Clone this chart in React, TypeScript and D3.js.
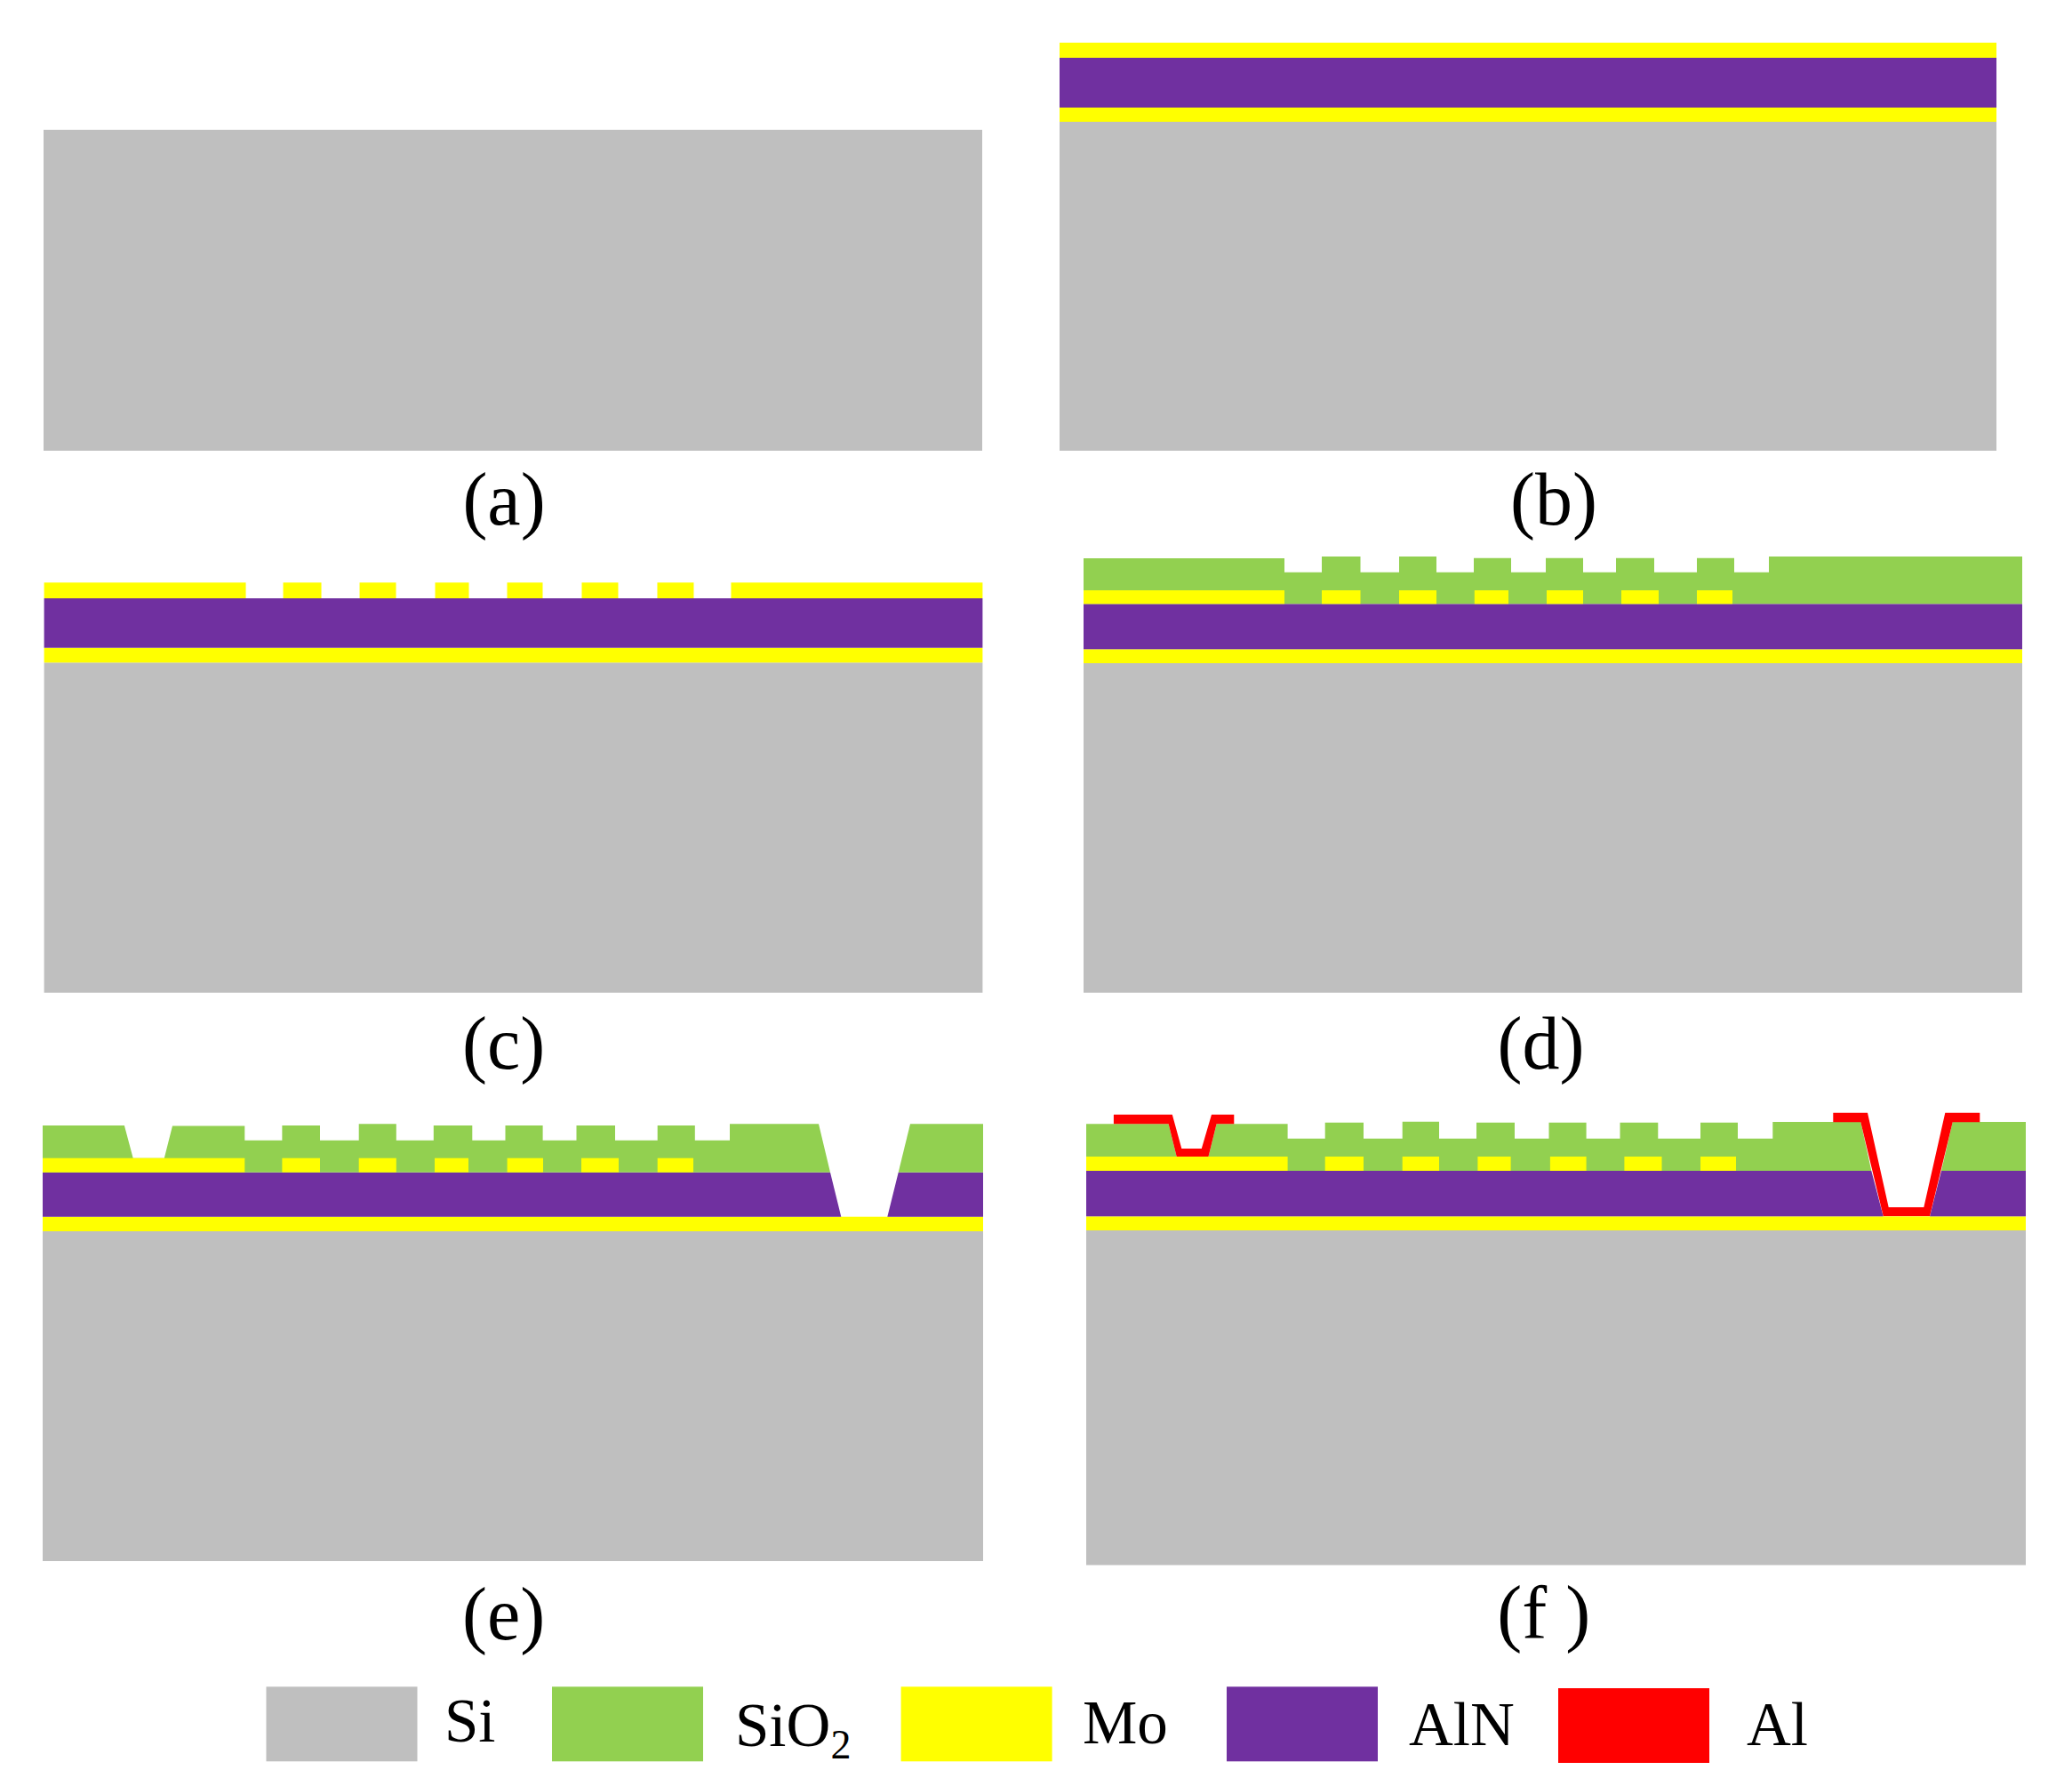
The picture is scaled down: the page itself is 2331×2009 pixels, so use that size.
import * as d3 from 'd3';

type Pt = [number, number];
type Span = [number, number];

// material colours
const colorSi = '#bfbfbf';
const colorSiO2 = '#92d050';
const colorMo = '#ffff00';
const colorAlN = '#7030a0';
const colorAl = '#ff0000';

// x runs along the wafer, z is height above the bottom of the substrate
// layer tops per panel: [Si, lower Mo, AlN, upper Mo]
const stackA = [361];
const stackB = [370, 386, 442, 459];
const stackC = [370.7, 387.3, 443, 460.7];
const stackD = [370, 385.7, 436.7, 452];
const stackE = [371, 387.3, 437.3, 453.3];
const stackF = [376, 391.7, 443, 459];

// upper Mo pieces
const moC: Span[] = [[0, 227], [269, 312], [355, 396], [440, 478], [521, 561], [605, 646], [690, 731], [773, 1056]];
const moD: Span[] = [[0, 226], [268, 311.5], [355, 397], [439.8, 478], [521, 562], [605, 647], [690, 730]];
const moE: Span[] = [[0, 227.3], [269.4, 312], [355.7, 397.8], [441, 479], [522.6, 563], [606, 648], [691.7, 732]];
const moF: Span[] = [[0, 226.6], [268.7, 312], [355.7, 397], [440.4, 477.6], [521.9, 562.6], [605.4, 647.5], [691, 731]];

// SiO2 teeth: [from, to, top]
const teethD = [[268, 311.5, 490], [355, 397, 490], [439, 481, 488.3], [520, 562, 488.3], [599, 642, 488.3], [690, 732, 488.3]];
const teethE = [[269.4, 312, 490], [355.7, 397.8, 491.7], [439.8, 483.3, 490], [520.5, 562.6, 490], [600.5, 644, 490], [691.7, 733.8, 490]];
const teethF = [[268.7, 312, 497.3], [355.7, 397, 498.3], [439, 482, 497.3], [520.5, 562.6, 497.3], [600.5, 643.3, 497.3], [691, 733, 497.3]];

// SiO2 gutter level between the teeth
const notchD = 472.3;
const notchE = 473.3;
const notchF = 479.3;

// SiO2 outline pieces either side of the comb
const oxideLeftD: Pt[] = [[0, 436.7], [0, 488], [226, 488], [226, 472.3]];
const oxideRightD: Pt[] = [[771, 472.3], [771, 490], [1056, 490], [1056, 436.7]];
const oxideLeftE: Pt[] = [[0, 437.3], [0, 490], [91.9, 490], [101.7, 453.3], [136.8, 453.3], [146, 489.5], [227.3, 489.5], [227.3, 473.3]];
const oxideRightE: Pt[] = [[773, 473.3], [773, 491.7], [873, 491.7], [886, 437.3]];
const oxideFarE: Pt[] = [[962.7, 437.3], [976, 491.7], [1058, 491.7], [1058, 437.3]];
const oxideLeftF: Pt[] = [[0, 443], [0, 495.7], [92.6, 495.7], [101.7, 459], [137.5, 459], [146.6, 495.7], [226.6, 495.7], [226.6, 479.3]];
const oxideRightF: Pt[] = [[772.3, 479.3], [772.3, 498], [871.3, 498], [883.3, 443]];
const oxideFarF: Pt[] = [[962, 443], [974.7, 498], [1057, 498], [1057, 443]];

// AlN with the via etched through
const alnE: Pt[] = [[0, 387.3], [0, 437.3], [886, 437.3], [898.3, 387.3], [950.3, 387.3], [962.7, 437.3], [1058, 437.3], [1058, 387.3]];
const alnF: Pt[] = [[0, 391.7], [0, 443], [883.3, 443], [896.7, 391.7], [949, 391.7], [962, 443], [1057, 443], [1057, 391.7]];

// Al contacts
const alSmall: Pt[] = [[30.9, 506.3], [96.8, 506.3], [107.3, 468], [129.8, 468], [141, 506.3], [166.3, 506.3], [166.3, 495.7], [146.6, 495.7], [137.5, 459], [101.7, 459], [92.6, 495.7], [30.9, 495.7]];
const alBig: Pt[] = [[840.3, 508.3], [879, 508.3], [902.7, 402], [942.3, 402], [966.3, 508.3], [1005.3, 508.3], [1005.3, 497.7], [974.7, 497.7], [949, 392], [896.7, 392], [871.3, 497.7], [840.3, 497.7]];

// legend
const legendNames = ['Si', 'SiO', 'Mo', 'AlN', 'Al'];
const legendColors = [colorSi, colorSiO2, colorMo, colorAlN, colorAl];

const combOutline = (teeth: number[][], notch: number): Pt[] =>
  teeth.flatMap(([a, b, top]) => [[a, notch], [a, top], [b, top], [b, notch]] as Pt[]);

const line = d3.line();

function Panel({left, right, bottom, width, stack, base = 0, label, labelX, labelY, children}: any) {
  const x = d3.scaleLinear().domain([0, width]).range([left, right]);
  const y = d3.scaleLinear().domain([0, 600]).range([bottom, bottom - 600]);
  const path = (pts: Pt[]) => line(pts.map(([a, b]) => [x(a), y(b)] as Pt)) + 'Z';
  const band = (z0: number, z1: number, color: string) =>
    <rect x={left} width={right - left} y={y(z1)} height={y(z0) - y(z1)} fill={color}/>;
  return <g>
    {band(base, stack[0], colorSi)}
    {stack.length > 1 && band(stack[0], stack[1], colorMo)}
    {stack.length > 2 && band(stack[1], stack[2], colorAlN)}
    {children && children(x, y, path)}
    <text x={labelX} y={labelY} textAnchor="middle" fontSize={84} xmlSpace="preserve">{label}</text>
  </g>;
}

const moPieces = (spans: Span[], z0: number, z1: number) => (x: any, y: any) =>
  spans.map(([a, b]) =>
    <rect key={a} x={x(a)} width={x(b) - x(a)} y={y(z1)} height={y(z0) - y(z1)} fill={colorMo}/>);

export default function App() {
  return <svg width={2331} height={2009} viewBox="0 0 2331 2009"
    style={{position: 'absolute', left: 0, top: 0, background: '#fff', fontFamily: '"Liberation Serif"', fill: '#000'}}>

    <Panel left={49} right={1105} bottom={507} width={1056} stack={stackA} label="(a)" labelX={567} labelY={589.7}/>

    <Panel left={1192} right={2246} bottom={507} width={1054} stack={stackB} label="(b)" labelX={1748} labelY={589.7}>
      {(x: any, y: any) => <rect x={x(0)} width={x(1054) - x(0)} y={y(stackB[3])} height={y(stackB[2]) - y(stackB[3])} fill={colorMo}/>}
    </Panel>

    <Panel left={49.6} right={1105.4} bottom={1116} base={-0.7} width={1056} stack={stackC} label="(c)" labelX={566.7} labelY={1201.7}>
      {(x: any, y: any) => moPieces(moC, stackC[2], stackC[3])(x, y)}
    </Panel>

    <Panel left={1219} right={2275} bottom={1116} base={-0.7} width={1056} stack={stackD} label="(d)" labelX={1733.4} labelY={1201.7}>
      {(x: any, y: any, path: any) => <>
        <path d={path([...oxideLeftD, ...combOutline(teethD, notchD), ...oxideRightD])} fill={colorSiO2}/>
        {moPieces(moD, stackD[2], stackD[3])(x, y)}
      </>}
    </Panel>

    <Panel left={48} right={1106} bottom={1756} width={1058} stack={[stackE[0], stackE[1]]} label="(e)" labelX={566.7} labelY={1843.7}>
      {(x: any, y: any, path: any) => <>
        <path d={path(alnE)} fill={colorAlN}/>
        <path d={path([...oxideLeftE, ...combOutline(teethE, notchE), ...oxideRightE])} fill={colorSiO2}/>
        <path d={path(oxideFarE)} fill={colorSiO2}/>
        {moPieces(moE, stackE[2], stackE[3])(x, y)}
      </>}
    </Panel>

    <Panel left={1222} right={2279} bottom={1760} base={-0.5} width={1057} stack={[stackF[0], stackF[1]]} label="(f )" labelX={1736.7} labelY={1841.7}>
      {(x: any, y: any, path: any) => <>
        <path d={path(alnF)} fill={colorAlN}/>
        <path d={path([...oxideLeftF, ...combOutline(teethF, notchF), ...oxideRightF])} fill={colorSiO2}/>
        <path d={path(oxideFarF)} fill={colorSiO2}/>
        {moPieces(moF, stackF[2], stackF[3])(x, y)}
        <path d={path(alSmall)} fill={colorAl}/>
        <path d={path(alBig)} fill={colorAl}/>
      </>}
    </Panel>

    {legendNames.map((name, i) => {
      const swatchX = [299.5, 621, 1013.6, 1380, 1753][i];
      const swatchY = i === 4 ? 1899 : 1897.3;
      const textX = [500, 827, 1218, 1585, 1965][i];
      const textY = [1959, 1964, 1961, 1963, 1963][i];
      return <g key={name}>
        <rect x={swatchX} y={swatchY} width={170} height={84} fill={legendColors[i]}/>
        <text x={textX} y={textY} fontSize={69}>
          {name}
          {name === 'SiO' && <tspan fontSize={46} dy={14}>2</tspan>}
        </text>
      </g>;
    })}
  </svg>;
}
